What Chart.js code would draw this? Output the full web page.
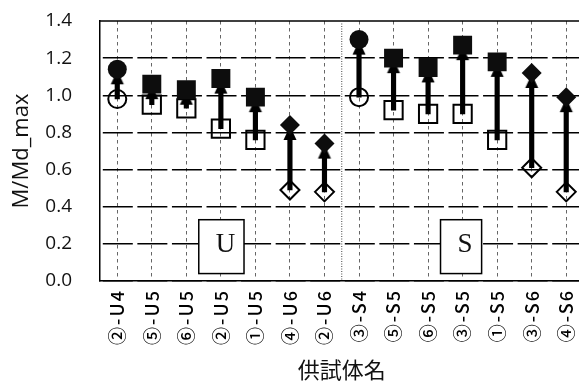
<!DOCTYPE html>
<html>
<head>
<meta charset="utf-8">
<script src="https://cdn.jsdelivr.net/npm/chart.js"></script>
<style>
  html, body { margin: 0; padding: 0; background: #fff; overflow: hidden; width: 579px; height: 381px; }
  canvas { display: block; }
</style>
</head>
<body>
<canvas id="chart" width="595" height="381"></canvas>
<script>
// Specimen names (x categories)
const specimens = ['②-U4', '⑤-U5', '⑥-U5', '②-U5', '①-U5', '④-U6', '②-U6',
                   '③-S4', '⑤-S5', '⑥-S5', '③-S5', '①-S5', '③-S6', '④-S6'];
// M/Md_max before (open markers) and after (filled markers)
const ratioBefore = [0.98, 0.95, 0.93, 0.82, 0.76, 0.49, 0.48, 0.99, 0.92, 0.90, 0.90, 0.76, 0.61, 0.48];
const ratioAfter  = [1.14, 1.06, 1.03, 1.09, 0.99, 0.84, 0.74, 1.30, 1.20, 1.15, 1.27, 1.18, 1.12, 0.99];
// y-axis tick labels
const yTickLabels = ['0.0', '0.2', '0.4', '0.6', '0.8', '1.0', '1.2', '1.4'];

// marker shape for each specimen
const markerShapes = ['circle', 'rect', 'rect', 'rect', 'rect', 'rectRot', 'rectRot',
                      'circle', 'rect', 'rect', 'rect', 'rect', 'rectRot', 'rectRot'];
const markerSize = { circle: 9.5, rect: 13.4, rectRot: 10 };

// group label boxes (in axis units)
const groupBoxes = [
  { text: 'U', from: 2.36, to: 3.67, low: 0.04, high: 0.33 },
  { text: 'S', from: 9.36, to: 10.55, low: 0.04, high: 0.33 }
];

// arrow head sprite: tip sits just under the point, base further down
function makeArrowHead() {
  const c = document.createElement('canvas');
  c.width = 40; c.height = 40;
  const g = c.getContext('2d');
  g.fillStyle = '#000';
  g.beginPath();
  g.moveTo(20, 21);
  g.lineTo(26.5, 35);
  g.lineTo(13.5, 35);
  g.closePath();
  g.fill();
  return c;
}
const arrowHead = makeArrowHead();

// category axis whose labels are drawn with a little extra letter spacing
class SpacedCategoryScale extends Chart.CategoryScale {
  static id = 'spacedCategory';
  drawLabels(area) {
    const ctx = this.ctx;
    ctx.save();
    if ('letterSpacing' in ctx) ctx.letterSpacing = '2px';
    super.drawLabels(area);
    ctx.restore();
  }
}
Chart.register(SpacedCategoryScale);

const decorations = {
  id: 'decorations',
  beforeDatasetsDraw(chart) {
    const { ctx, chartArea: a, scales: { x, y } } = chart;
    ctx.save();
    // solid top frame
    ctx.strokeStyle = '#000';
    ctx.lineWidth = 1.5;
    ctx.beginPath();
    ctx.moveTo(a.left, a.top);
    ctx.lineTo(a.right, a.top);
    ctx.stroke();

    // divider between U and S groups
    const firstS = specimens.findIndex(s => s.includes('S'));
    const xd = (x.getPixelForValue(firstS - 1) + x.getPixelForValue(firstS)) / 2;
    ctx.setLineDash([1, 1.5]);
    ctx.lineWidth = 1;
    ctx.strokeStyle = '#444';
    ctx.beginPath();
    ctx.moveTo(xd, a.top);
    ctx.lineTo(xd, a.bottom);
    ctx.stroke();
    ctx.setLineDash([]);

    // group label boxes
    for (const b of groupBoxes) {
      const x0 = x.getPixelForValue(b.from), x1 = x.getPixelForValue(b.to);
      const y0 = y.getPixelForValue(b.high), y1 = y.getPixelForValue(b.low);
      ctx.fillStyle = '#fff';
      ctx.fillRect(x0, y0, x1 - x0, y1 - y0);
      ctx.strokeStyle = '#000';
      ctx.lineWidth = 1.5;
      ctx.strokeRect(x0, y0, x1 - x0, y1 - y0);
      ctx.fillStyle = '#111';
      ctx.font = "27px 'Liberation Serif', serif";
      ctx.textAlign = 'center';
      ctx.textBaseline = 'middle';
      ctx.fillText(b.text, (x0 + x1) / 2 + 4, (y0 + y1) / 2 - 2);
    }
    ctx.restore();
  }
};

const radii = markerShapes.map(s => markerSize[s]);

new Chart(document.getElementById('chart'), {
  data: {
    labels: specimens,
    datasets: [
      {
        type: 'bar',
        label: 'shaft',
        data: ratioBefore.map((v, i) => [v, ratioAfter[i]]),
        backgroundColor: '#000',
        barThickness: 4.5,
        borderWidth: 0,
        order: 4
      },
      {
        type: 'line',
        label: 'before',
        data: ratioBefore,
        showLine: false,
        pointStyle: markerShapes,
        pointRadius: radii.map(r => r - 0.5),
        pointHoverRadius: radii.map(r => r - 0.5),
        pointBackgroundColor: 'rgba(0,0,0,0)',
        pointBorderColor: '#000',
        pointBorderWidth: 2,
        order: 3
      },
      {
        type: 'line',
        label: 'arrow',
        data: ratioAfter,
        showLine: false,
        pointStyle: arrowHead,
        order: 2
      },
      {
        type: 'line',
        label: 'after',
        data: ratioAfter,
        showLine: false,
        pointStyle: markerShapes,
        pointRadius: radii,
        pointHoverRadius: radii,
        pointBackgroundColor: '#0d0d0d',
        pointBorderColor: '#0d0d0d',
        pointBorderWidth: 0,
        order: 1
      }
    ]
  },
  options: {
    responsive: false,
    animation: false,
    devicePixelRatio: 1,
    events: [],
    layout: { padding: { left: 0, top: 21, right: 1, bottom: 0 } },
    plugins: { legend: { display: false }, tooltip: { enabled: false } },
    scales: {
      x: {
        type: 'spacedCategory',
        offset: true,
        grid: {
          offset: false, color: '#666', lineWidth: 1,
          drawTicks: true, tickLength: 8, tickColor: 'rgba(0,0,0,0)'
        },
        border: { display: true, color: '#000', width: 1.5, dash: [3.5, 3.5] },
        ticks: {
          autoSkip: false,
          minRotation: 90,
          maxRotation: 90,
          padding: 0,
          color: '#000',
          font: { family: "'Noto Sans CJK JP', sans-serif", size: 18, weight: '500' }
        },
        title: {
          display: true,
          text: '供試体名',
          color: '#111',
          font: { family: "'Noto Sans CJK JP', sans-serif", size: 22, lineHeight: 1 },
          padding: { top: 0, bottom: 0 }
        },
        afterFit(s) { s.height = 100; }
      },
      y: {
        min: 0,
        max: 1.4,
        ticks: {
          stepSize: 0.2,
          padding: 4,
          color: '#111',
          font: { family: "'Open Sans', sans-serif", size: 19 },
          callback: (v, i) => yTickLabels[i]
        },
        grid: {
          color: c => (Math.abs(c.tick.value - 1.4) < 1e-6 ? 'rgba(0,0,0,0)' : '#000'),
          lineWidth: 1.5,
          drawTicks: true,
          tickLength: 24,
          tickColor: 'rgba(0,0,0,0)'
        },
        border: { display: true, color: '#000', width: 1.5, dash: [30, 4.57], dashOffset: -2.3 },
        title: {
          display: true,
          text: 'M/Md_max',
          color: '#111',
          font: { family: "'Open Sans', sans-serif", size: 22, lineHeight: 1 },
          padding: { top: 11, bottom: 0 }
        },
        afterFit(s) { s.width = 100; }
      }
    }
  },
  plugins: [decorations]
});
</script>
</body>
</html>
